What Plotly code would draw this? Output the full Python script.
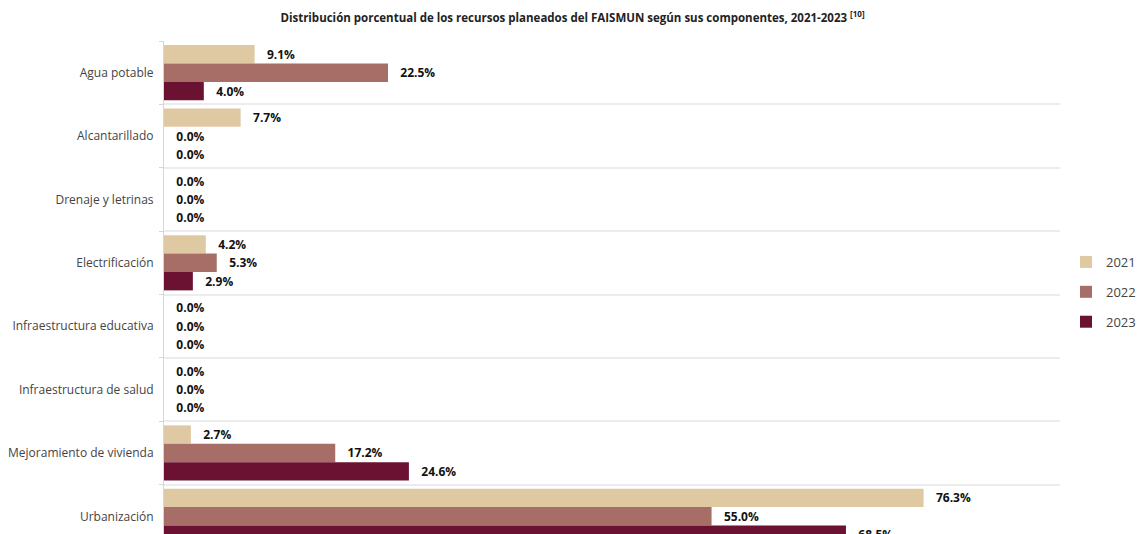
import plotly.graph_objects as go

components = [
    'Agua potable',
    'Alcantarillado',
    'Drenaje y letrinas',
    'Electrificación',
    'Infraestructura educativa',
    'Infraestructura de salud',
    'Mejoramiento de vivienda',
    'Urbanización',
]

years = ['2021', '2022', '2023']
pct_2021 = [9.1, 7.7, 0.0, 4.2, 0.0, 0.0, 2.7, 76.3]
pct_2022 = [22.5, 0.0, 0.0, 5.3, 0.0, 0.0, 17.2, 55.0]
pct_2023 = [4.0, 0.0, 0.0, 2.9, 0.0, 0.0, 24.6, 68.5]

_COLORS = ['#dfc9a2', '#a66e66', '#6b1232']
_FONT = 'Open Sans'

fig = go.Figure()
for year, vals, color in zip(years, [pct_2021, pct_2022, pct_2023], _COLORS):
    fig.add_trace(go.Bar(
        name=year,
        legendgroup=year,
        x=vals,
        y=components,
        orientation='h',
        marker=dict(color=color, line=dict(width=0)),
        texttemplate='   <b>%{x:.1f}%</b>',
        textposition='outside',
        textfont=dict(family=_FONT, size=12, color='#111111'),
        constraintext='none',
        cliponaxis=False,
    ))

fig.update_xaxes(
    range=[0, 90],
    showgrid=False,
    zeroline=False,
    showticklabels=False,
    visible=False,
    automargin=False,
)
fig.update_yaxes(
    range=[7.5, -0.5],
    automargin=False,
    tickson='boundaries',
    ticks='outside',
    ticklen=4,
    tickcolor='#d6d6d6',
    ticklabelstandoff=7,
    showgrid=True,
    gridcolor='#ececec',
    gridwidth=1.5,
    showline=True,
    linecolor='#d6d6d6',
    tickfont=dict(family=_FONT, size=12, color='#444444'),
)
# page body adds an 8px margin; the chart runs past the bottom and right
# of the window like the reference does
fig.update_layout(
    width=1200,
    height=552,
    margin=dict(l=156, r=148, t=33, b=12),
    paper_bgcolor='white',
    plot_bgcolor='white',
    barmode='group',
    bargap=0.13,
    bargroupgap=0.0,
    font=dict(family=_FONT),
    title=dict(
        text='<b>Distribución porcentual de los recursos planeados del FAISMUN según sus componentes, 2021-2023 <sup>[10]</sup></b>',
        x=(1145 / 2 - 8) / 1200,
        xref='container',
        xanchor='center',
        y=1 - 9.5 / 552,
        yref='container',
        yanchor='middle',
        font=dict(family=_FONT, size=11.5, color='#222222'),
    ),
    legend=dict(
        x=1.0067,
        xanchor='left',
        y=0.505,
        yanchor='middle',
        traceorder='grouped',
        tracegroupgap=10,
        font=dict(family=_FONT, size=13, color='#444444'),
    ),
)

fig.write_html('out.html')
